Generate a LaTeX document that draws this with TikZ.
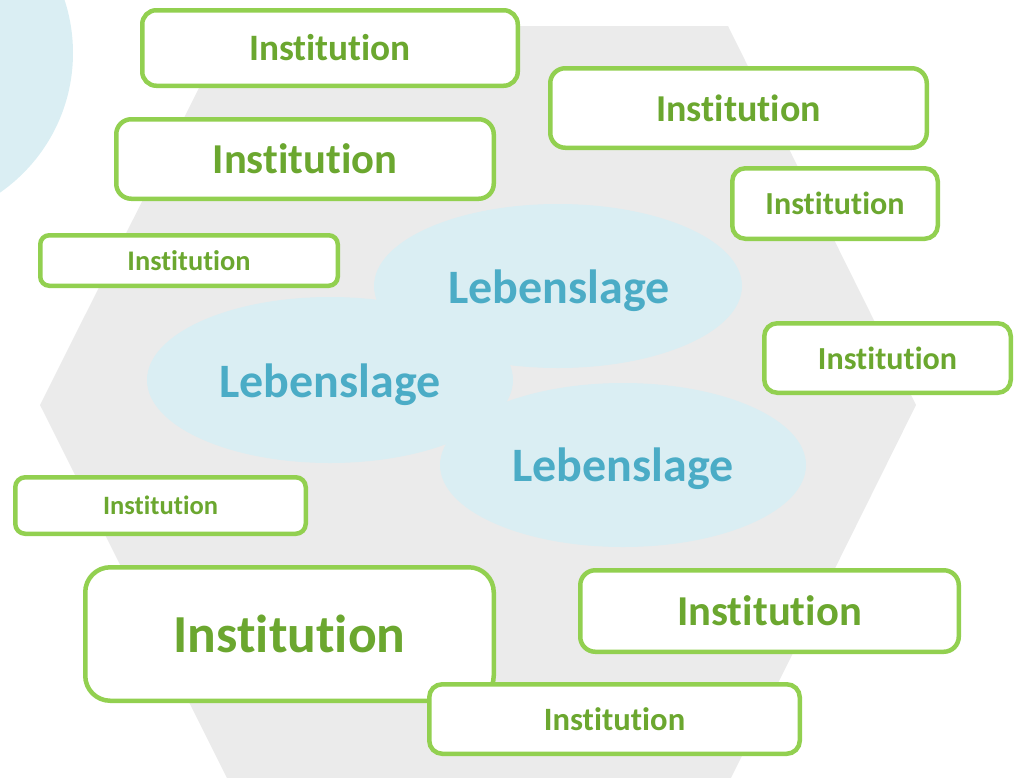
\documentclass[tikz,border=0pt]{standalone}
\usepackage{fontspec}
\setmainfont[Ligatures={NoCommon}]{Carlito}
\definecolor{hexgrey}{HTML}{EBEBEB}
\definecolor{paleblue}{HTML}{DAEEF3}
\definecolor{lebtext}{HTML}{4BACC6}
\definecolor{instborder}{HTML}{92D050}
\definecolor{insttext}{HTML}{6BA72F}
\tikzset{
  inst/.style={draw=instborder, line width=4.5pt, fill=white, text=insttext,
    inner sep=0pt, align=center},
  lebellipse/.style={fill=paleblue, draw=none},
  lebtxt/.style={text=lebtext, anchor=base, inner sep=0pt,
    font=\fontsize{48}{50}\selectfont\bfseries},
}
\newcommand{\fsz}[1]{\fontsize{#1}{#1}\selectfont\bfseries}
\begin{document}
\begin{tikzpicture}[x=1pt,y=-1pt]
\useasboundingbox (0,0) rectangle (1019,777);
% background hexagon
\fill[hexgrey] (230,26) -- (728,26) -- (916,405) -- (728,784) -- (230,784) -- (40,405) -- cycle;
% circle top-left
\fill[paleblue] (-97,53) circle[radius=170];
% ellipses
\fill[lebellipse] (558,286) ellipse[x radius=184, y radius=82];
\fill[lebellipse] (330,380) ellipse[x radius=183, y radius=83];
\fill[lebellipse] (623,465) ellipse[x radius=183, y radius=82];
\node[lebtxt] (l1) at (559,303) {Lebenslage};
\node[lebtxt] (l2) at (330,397) {Lebenslage};
\node[lebtxt] (l3) at (623,481) {Lebenslage};
% institution boxes
\node[inst, rounded corners=14, minimum width=375.5, minimum height=75.5, font=\fsz{37.3}] (b1) at (330,48) {Institution};
\node[inst, rounded corners=15, minimum width=377.5, minimum height=79.5, font=\fsz{42.6}] (b2) at (305,159) {Institution};
\node[inst, rounded corners=9, minimum width=297.5, minimum height=50.5, font=\fsz{28.4}] (b3) at (189,260.5) {Institution};
\node[inst, rounded corners=15, minimum width=376.5, minimum height=79.5, font=\fsz{38}] (b4) at (738.5,108) {Institution};
\node[inst, rounded corners=13, minimum width=205.5, minimum height=70.5, font=\fsz{32.1}] (b5) at (835,203.5) {Institution};
\node[inst, rounded corners=13, minimum width=246.5, minimum height=69.5, font=\fsz{32.1}] (b6) at (887.5,358) {Institution};
\node[inst, rounded corners=10, minimum width=290.5, minimum height=56.5, font=\fsz{26.5}] (b7) at (160.5,505.5) {Institution};
\node[inst, rounded corners=25, minimum width=408.5, minimum height=133.5, font=\fsz{53.5}] (b8) at (289.5,634) {Institution};
\node[inst, rounded corners=15, minimum width=378.5, minimum height=81.5, font=\fsz{42.6}] (b9) at (769.5,611) {Institution};
\node[inst, rounded corners=13, minimum width=370.5, minimum height=69.5, font=\fsz{32.6}] (b10) at (614.5,719) {Institution};
\end{tikzpicture}
\end{document}
